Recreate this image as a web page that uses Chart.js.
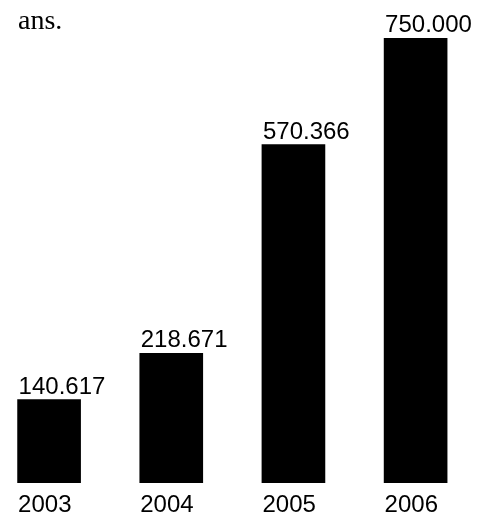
<!DOCTYPE html>
<html>
<head>
<meta charset="utf-8">
<script src="https://cdn.jsdelivr.net/npm/chart.js@4"></script>
<style>
  html, body { margin: 0; padding: 0; background: #fff; }
  #wrap { position: relative; width: 495px; height: 518px; overflow: hidden; }
  #note { position: absolute; left: 18px; top: 4px; font: 28px "Liberation Serif", "Times New Roman", serif; color: #000; }
  #box { position: absolute; left: -12px; top: 0; width: 489px; height: 518px; }
</style>
</head>
<body>
<div id="wrap">
  <div id="box"><canvas id="myChart"></canvas></div>
  <div id="note">ans.</div>
</div>
<script>
var years = ['2003', '2004', '2005', '2006'];
var values = [140617, 218671, 570366, 750000];
var valueLabels = ['140.617', '218.671', '570.366', '750.000'];

// labels above bars, left aligned on the bar edge
var barLabels = {
  id: 'barLabels',
  afterDatasetsDraw: function(chart) {
    var ctx = chart.ctx;
    var meta = chart.getDatasetMeta(0);
    ctx.save();
    ctx.font = '24px "Liberation Sans", Arial, sans-serif';
    ctx.fillStyle = '#000';
    ctx.textAlign = 'left';
    ctx.textBaseline = 'alphabetic';
    meta.data.forEach(function(bar, i) {
      ctx.fillText(valueLabels[i], bar.x - bar.width / 2 + 1, bar.y - 6);
    });
    ctx.restore();
  }
};

var ctx = document.getElementById('myChart').getContext('2d');
var chart = new Chart(ctx, {
  type: 'bar',
  data: {
    labels: years,
    datasets: [{
      data: values,
      backgroundColor: '#000',
      borderWidth: 0,
      barThickness: 63
    }]
  },
  options: {
    responsive: true,
    maintainAspectRatio: false,
    animation: false,
    layout: { padding: { top: 38, left: 0, right: 0, bottom: 0 } },
    plugins: { legend: { display: false }, tooltip: { enabled: false } },
    scales: {
      x: {
        grid: { display: false, drawTicks: false },
        border: { display: false },
        afterFit: function(scale) { scale.height = 35; },
        ticks: {
          color: '#000',
          align: 'start',
          labelOffset: -31,
          padding: 8,
          font: { family: '"Liberation Sans", Arial, sans-serif', size: 24 }
        }
      },
      y: {
        display: false,
        min: 0,
        max: 750000
      }
    }
  },
  plugins: [barLabels]
});
</script>
</body>
</html>
